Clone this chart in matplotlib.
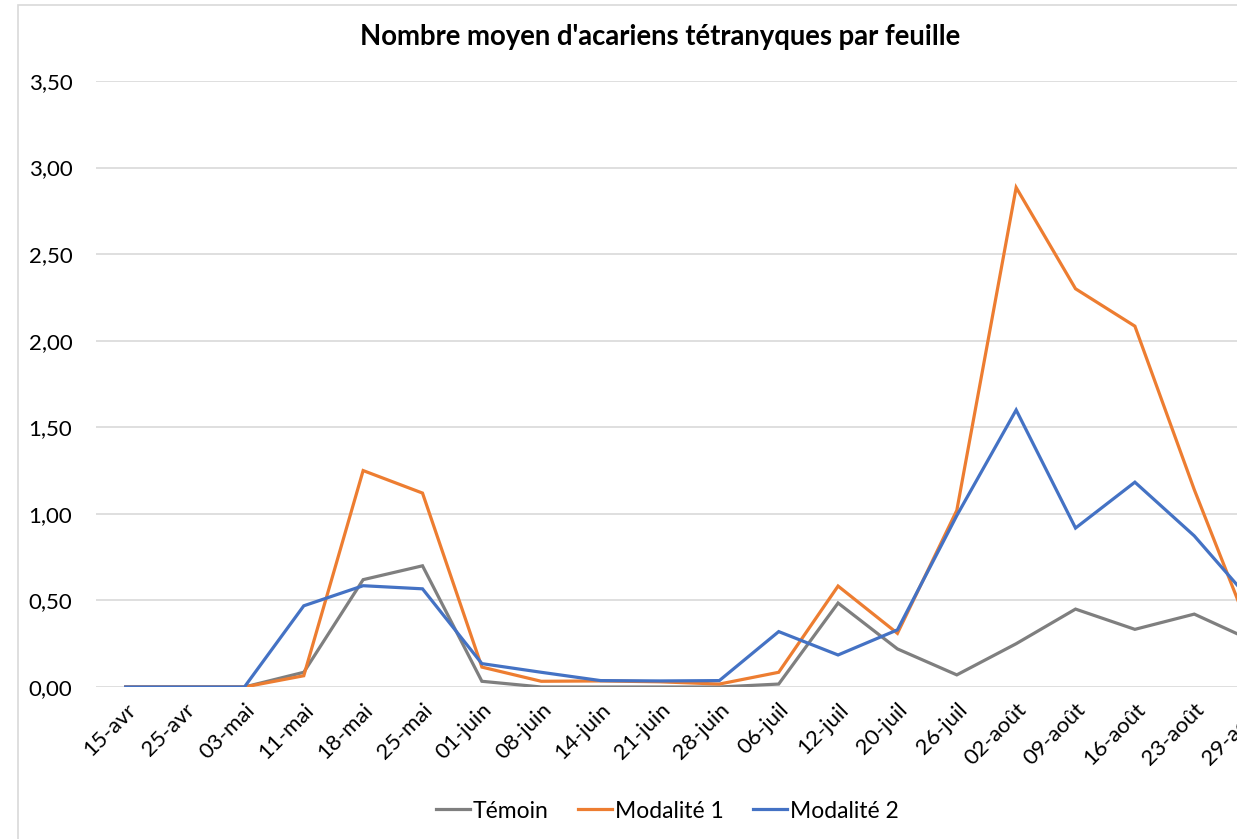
import matplotlib
matplotlib.use("Agg")
import matplotlib.pyplot as plt
from matplotlib.lines import Line2D
from matplotlib.patches import Rectangle

plt.rcParams["font.family"] = ["Lato", "DejaVu Sans"]

dates = [
    "15-avr", "25-avr", "03-mai", "11-mai", "18-mai", "25-mai", "01-juin",
    "08-juin", "14-juin", "21-juin", "28-juin", "06-juil", "12-juil",
    "20-juil", "26-juil", "02-août", "09-août", "16-août", "23-août", "29-août",
]
temoin = [0.00, 0.00, 0.00, 0.085, 0.62, 0.70, 0.033, 0.00, 0.00, 0.00,
          0.00, 0.017, 0.485, 0.22, 0.07, 0.25, 0.45, 0.333, 0.421, 0.264]
modalite1 = [0.00, 0.00, 0.00, 0.065, 1.25, 1.12, 0.115, 0.033, 0.035, 0.03,
             0.017, 0.085, 0.583, 0.31, 1.02, 2.885, 2.30, 2.084, 1.14, 0.27]
modalite2 = [0.00, 0.00, 0.00, 0.469, 0.585, 0.567, 0.135, 0.085, 0.037, 0.035,
             0.037, 0.32, 0.185, 0.33, 0.99, 1.60, 0.918, 1.183, 0.873, 0.48]
y_ticks = [0.0, 0.5, 1.0, 1.5, 2.0, 2.5, 3.0, 3.5]

series = [
    ("Témoin", temoin, "#7f7f7f"),
    ("Modalité 1", modalite1, "#ed7d31"),
    ("Modalité 2", modalite2, "#4472c4"),
]

W, H = 1237, 839
fig = plt.figure(figsize=(W / 100, H / 100), dpi=100)
ax = fig.add_axes([96 / W, 1 - 687 / H, 1 - 96 / W, (687 - 81) / H])

x = list(range(len(dates)))
for name, values, colour in series:
    ax.plot(x, values, color=colour, linewidth=2.3, label=name,
            solid_joinstyle="miter")

ax.set_yticks(y_ticks)
ax.set_yticklabels([f"{v:.2f}".replace(".", ",") for v in y_ticks], fontsize=16)
ax.set_xticks(x)
ax.set_xticklabels(dates, rotation=45, ha="right", va="top",
                   rotation_mode="anchor", fontsize=16)
# the original chart is cropped on the right, part way to the last date
ax.set_xlim(-0.5, 18.72)
ax.set_ylim(0, 3.5)
ax.tick_params(axis="both", length=0, colors="#000000")
ax.tick_params(axis="x", pad=9)
ax.tick_params(axis="y", pad=17)
ax.grid(axis="y", color="#d9d9d9", linewidth=1.2)
ax.set_axisbelow(True)
for spine in ax.spines.values():
    spine.set_visible(False)

# last date label sits past the view limit, so matplotlib would drop it
ax.annotate(dates[-1], xy=(x[-1], 0), xycoords=("data", "axes fraction"),
            xytext=(0, -9), textcoords="offset points", rotation=45,
            ha="right", va="top", rotation_mode="anchor", fontsize=16,
            annotation_clip=False)

fig.text(660 / W, 1 - 37 / H, "Nombre moyen d'acariens tétranyques par feuille",
         ha="center", va="center", fontsize=19.8, fontweight="bold")

handles = [Line2D([0], [0], color=c, linewidth=2.3) for _, _, c in series]
fig.legend(handles, [n for n, _, _ in series], loc="center",
           bbox_to_anchor=(667 / W, 1 - 811 / H), ncol=3, frameon=False,
           fontsize=16.5, handlelength=1.5, handletextpad=0.1, columnspacing=1.3)

# chart border (left and top visible in the crop)
fig.add_artist(Rectangle((18 / W, -0.01), 1.1, 1 - 5 / H + 0.01,
                         transform=fig.transFigure, fill=False,
                         edgecolor="#d9d9d9", linewidth=1.2))

fig.savefig("out.png", dpi=100, facecolor="white")
